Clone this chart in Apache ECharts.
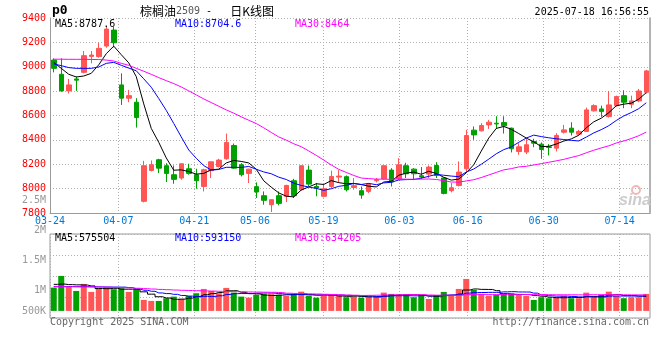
<!DOCTYPE html>
<html><head><meta charset="utf-8">
<script src="https://cdn.jsdelivr.net/npm/echarts@6/dist/echarts.min.js"></script>
<style>html,body{margin:0;padding:0;background:#fff}#c{width:660px;height:360px}</style>
</head><body><div id="c"></div>
<script>
// ---- data ----
const dates = ['03-24','03-25','03-26','03-27','03-28','03-31',
'04-01','04-02','04-03','04-07','04-08','04-09','04-10','04-11','04-14','04-15','04-16','04-17','04-18','04-21','04-22','04-23','04-24','04-25','04-28','04-29','04-30',
'05-06','05-07','05-08','05-09','05-12','05-13','05-14','05-15','05-16','05-19','05-20','05-21','05-22','05-23','05-26','05-27','05-28','05-29','05-30',
'06-03','06-04','06-05','06-06','06-09','06-10','06-11','06-12','06-13','06-16','06-17','06-18','06-19','06-20','06-23','06-24','06-25','06-26','06-27','06-30',
'07-01','07-02','07-03','07-04','07-07','07-08','07-09','07-10','07-11','07-14','07-15','07-16','07-17','07-18'];
const labelDates = ['03-24','04-07','04-21','05-06','05-19','06-03','06-16','06-30','07-14'];

const opens = [9055,8938,8802,8900,8954,9085,9083,9170,9301,8851,8742,8709,7896,8149,8237,8188,8114,8087,8163,8114,
8018,8147,8182,8245,8354,8196,8125,8016,7942,7868,7942,7937,8065,7991,8152,8018,7937,8018,8095,8098,
8010,7983,7977,8065,8081,8152,8081,8188,8160,8106,8119,8190,8087,7983,8026,8163,8480,8474,8523,8537,
8542,8496,8305,8300,8387,8365,8343,8332,8463,8496,8447,8469,8638,8654,8591,8681,8763,8692,8720,8791];
const closes = [8987,8802,8851,8890,9091,9096,9151,9309,9197,8742,8763,8583,8188,8196,8168,8125,8076,8204,8125,8065,
8155,8220,8234,8379,8168,8114,8160,7972,7904,7909,7879,8026,7942,8188,8037,8005,7999,8100,8103,7991,
8024,7947,8037,8073,8188,8054,8196,8122,8122,8095,8177,8108,7961,8007,8136,8436,8441,8518,8545,8531,
8515,8327,8343,8360,8373,8321,8338,8436,8482,8463,8469,8646,8681,8632,8687,8755,8709,8720,8801,8966];
const lows = [8954,8795,8780,8802,8946,9028,9074,9156,9159,8687,8709,8501,7887,8141,8127,8054,8040,8073,8114,7999,
7977,8087,8174,8237,8163,8100,8046,7923,7868,7808,7863,7890,7923,7983,8016,7937,7928,8005,8046,7977,
7991,7917,7963,8051,8073,8018,8070,8087,8070,8078,8087,8087,7953,7969,8018,8136,8401,8469,8490,8490,
8452,8297,8278,8283,8340,8245,8272,8305,8452,8436,8436,8469,8632,8589,8583,8673,8660,8660,8709,8780];
const highs = [9069,9069,8900,8920,9129,9129,9197,9334,9328,8946,8810,8742,8228,8231,8245,8209,8190,8204,8204,8163,
8163,8220,8245,8452,8370,8209,8163,8051,7977,7909,7977,8032,8081,8188,8190,8046,8037,8147,8152,8108,
8087,8018,8046,8087,8188,8168,8250,8212,8168,8177,8190,8217,8092,8046,8223,8482,8510,8537,8564,8594,
8594,8501,8373,8409,8409,8379,8365,8455,8523,8545,8482,8665,8692,8681,8801,8763,8807,8763,8818,8974];

const ma5 = [9036,8987,8938,8916,8924,8946,9016,9107,9169,9099,9032,8919,8695,8494,8380,8252,8151,8154,8140,8119,
8125,8154,8160,8211,8231,8223,8211,8159,8064,8012,7965,7938,7932,7989,8014,8040,8034,8066,8049,8040,
8043,8033,8020,8014,8054,8060,8110,8127,8136,8118,8142,8125,8093,8070,8078,8130,8196,8308,8415,8494,
8510,8487,8452,8415,8384,8345,8347,8366,8390,8408,8438,8499,8548,8578,8623,8680,8693,8701,8734,8787.6];
const ma10 = [9023,9009,8993,8987,8987,8987,8998,9028,9036,9012,8989,8967,8901,8832,8739,8642,8535,8424,8317,8249,
8189,8152,8157,8175,8175,8174,8182,8159,8137,8122,8094,8075,8045,8026,8013,8002,7986,7999,8019,8027,
8042,8034,8043,8032,8047,8052,8071,8074,8075,8086,8101,8117,8110,8103,8098,8136,8161,8200,8242,8286,
8320,8342,8380,8415,8439,8427,8417,8409,8403,8396,8391,8423,8457,8484,8516,8559,8596,8624,8656,8704.6];
const ma30 = [9062,9062,9061,9061,9061,9060,9059,9055,9047,9028,9012,8987,8963,8938,8911,8886,8862,8834,8802,8769,
8736,8706,8676,8646,8619,8589,8561,8534,8499,8461,8424,8398,8368,8344,8309,8273,8234,8194,8158,8133,
8108,8087,8082,8078,8078,8076,8080,8077,8077,8078,8079,8075,8066,8054,8053,8063,8073,8091,8112,8133,
8154,8164,8178,8183,8194,8205,8216,8228,8240,8256,8271,8294,8315,8334,8351,8374,8391,8411,8434,8464];

// volume in thousands
const volumes = [920,1383,948,790,1067,751,869,920,857,897,751,830,435,395,395,502,565,474,593,699,
869,790,699,909,723,565,525,632,672,660,632,593,672,762,593,525,593,632,593,541,
565,525,565,565,723,672,632,632,541,632,474,620,751,620,869,1264,830,672,604,632,
672,699,632,593,435,541,502,541,593,502,502,723,541,632,762,593,502,541,541,672];
const volMa5 = [1050,1060,1040,1030,1022,988,885,879,893,859,859,851,754,662,561,511,458,466,506,567,
640,685,730,793,798,737,684,671,623,611,624,638,646,664,650,629,629,621,587,577,
585,571,558,552,589,610,631,645,640,622,582,580,604,619,667,825,867,851,848,800,
682,656,648,646,606,580,541,522,522,536,528,572,572,580,632,650,606,606,588,575.5];
const volMa10 = [960,965,965,960,960,955,950,945,942,940,923,868,817,777,710,685,655,610,584,564,
576,572,598,650,682,689,685,700,708,704,681,661,658,644,631,627,633,633,626,614,
607,600,589,570,583,597,601,601,596,605,596,606,624,630,644,704,723,727,734,734,
753,761,749,747,703,631,598,585,584,571,554,556,547,551,584,589,589,589,584,593.2];
const volMa30 = [958,957,955,952,950,948,945,938,930,920,910,895,880,865,850,838,825,815,805,798,
790,782,775,768,760,754,748,744,740,736,727,700,691,690,674,667,658,648,639,627,
621,611,615,621,632,638,640,645,643,641,628,622,624,614,619,643,653,654,652,651,
652,656,654,649,643,644,641,638,638,637,635,641,640,643,644,641,637,634,634,634.2];

const priceMin = 7800, priceMax = 9400, priceStep = 200;
const volTickLabels = ['500K','','1M','','','1.5M','','','2M','','','2.5M'];
const priceLegend = ['MA5:8787.6','MA10:8704.6','MA30:8464'];
const volLegend = ['MA5:575504','MA10:593150','MA30:634205'];
const titleParts = ['棕榈油','2509',' -   ','日K线图'];
const symbolText = 'p0';
const stampText = '2025-07-18 16:56:55';

// ---- styles ----
const MONO = 'DejaVu Sans Mono';
const CJK = 'Noto Sans CJK SC';
const RED = '#ff5555', GREEN = '#00a000';
const GRID_C = '#b0b0b0', AXIS_C = '#9a9a9a';
const dotted = {color: GRID_C, type: [1, 2], width: 1};
const isLabel = (i, v) => labelDates.indexOf(v) >= 0;
const maColors = ['#000000', '#0000ff', '#ff00ff'];

const candleData = dates.map((d, i) => [opens[i], closes[i], lows[i], highs[i]]);
const volData = dates.map((d, i) => ({
  value: volumes[i],
  itemStyle: {color: closes[i] >= opens[i] ? RED : GREEN}
}));

const chart = echarts.init(document.getElementById('c'));
const lineSeries = (data, color, xi, yi, step) => ({
  type: 'line', data, xAxisIndex: xi, yAxisIndex: yi, showSymbol: false, symbol: 'none',
  step: step || false, z: 5, silent: true,
  lineStyle: {color, width: 1}
});
const txt = (text, x, y, color, extra) => ({
  type: 'text', x, y, z: 100,
  style: Object.assign({text, fill: color, font: '10px "' + MONO + '"', verticalAlign: 'middle', align: 'left'}, extra || {})
});

chart.setOption({
  animation: false,
  textStyle: {fontFamily: MONO},
  grid: [
    {left: 50, top: 18, width: 600, height: 195},
    {left: 50, top: 234, width: 600, height: 84, show: true, borderColor: AXIS_C, borderWidth: 1},
    {left: 50, top: 200, width: 600, height: 111}
  ],
  xAxis: [
    {type: 'category', gridIndex: 0, position: 'bottom', data: dates, boundaryGap: true, show: false},
    {type: 'category', gridIndex: 0, position: 'bottom', data: dates, boundaryGap: false,
      axisLine: {show: true, onZero: false, lineStyle: {color: AXIS_C}}, axisTick: {show: false},
      axisLabel: {interval: isLabel, color: '#0078d7', fontFamily: MONO, fontSize: 10, margin: 3},
      splitLine: {show: true, interval: isLabel, lineStyle: dotted}},
    {type: 'category', gridIndex: 1, position: 'bottom', data: dates, boundaryGap: true, show: false},
    {type: 'category', gridIndex: 1, position: 'bottom', data: dates, boundaryGap: false,
      axisLine: {show: false}, axisTick: {show: false}, axisLabel: {show: false},
      splitLine: {show: true, interval: isLabel, lineStyle: dotted}},
    {type: 'category', gridIndex: 2, data: dates, show: false}
  ],
  yAxis: [
    {type: 'value', gridIndex: 0, position: 'left', min: priceMin, max: priceMax, interval: priceStep,
      axisLine: {show: true, lineStyle: {color: AXIS_C}}, axisTick: {show: false},
      axisLabel: {color: '#ff0000', fontFamily: MONO, fontSize: 10, margin: 4, formatter: v => String(v)},
      splitLine: {show: true, lineStyle: dotted}},
    {type: 'value', gridIndex: 0, position: 'right', min: priceMin, max: priceMax,
      axisLine: {show: true, lineStyle: {color: AXIS_C, width: 1.5}}, axisTick: {show: false},
      axisLabel: {show: false}, splitLine: {show: false}},
    {type: 'value', gridIndex: 1, position: 'left', min: -280, max: 3040, show: false},
    {type: 'value', gridIndex: 1, position: 'left', min: 0, max: 4, interval: 1,
      axisLine: {show: false}, axisTick: {show: false}, axisLabel: {show: false},
      splitLine: {show: true, lineStyle: dotted}},
    {type: 'category', gridIndex: 2, data: volTickLabels, boundaryGap: false,
      axisLine: {show: false}, axisTick: {show: false}, splitLine: {show: false},
      axisLabel: {interval: 0, color: '#999999', fontFamily: MONO, fontSize: 10, margin: 4}}
  ],
  series: [
    {type: 'candlestick', xAxisIndex: 0, yAxisIndex: 0, data: candleData, barWidth: 5, silent: true,
      itemStyle: {color: RED, color0: GREEN, borderColor: RED, borderColor0: GREEN, borderWidth: 1}},
    lineSeries(ma5, maColors[0], 0, 0),
    lineSeries(ma10, maColors[1], 0, 0),
    lineSeries(ma30, maColors[2], 0, 0),
    {type: 'bar', xAxisIndex: 2, yAxisIndex: 2, data: volData, barWidth: 6, silent: true},
    lineSeries(volMa5, maColors[0], 2, 2, 'middle'),
    lineSeries(volMa10, maColors[1], 2, 2, 'middle'),
    lineSeries(volMa30, maColors[2], 2, 2, 'middle')
  ],
  graphic: [
    txt(symbolText, 52, 11, '#000', {font: 'bold 13px "' + MONO + '"'}),
    {type: 'text', x: 140, y: 11, z: 100, style: {
      text: '{a|' + titleParts[0] + '}{b|' + titleParts[1] + '}{c|' + titleParts[2] + '}{a|' + titleParts[3] + '}',
      verticalAlign: 'middle', align: 'left',
      rich: {
        a: {fontSize: 12, fontFamily: CJK, fill: '#000'},
        b: {fontSize: 10, fontFamily: MONO, fill: '#555'},
        c: {fontSize: 10, fontFamily: MONO, fill: '#000'}
      }}},
    txt(stampText, 649, 12, '#000', {align: 'right'}),
    txt(priceLegend[0], 55, 24, maColors[0]),
    txt(priceLegend[1], 175, 24, maColors[1]),
    txt(priceLegend[2], 295, 24, maColors[2]),
    txt(volLegend[0], 55, 238.5, maColors[0]),
    txt(volLegend[1], 175, 238.5, maColors[1]),
    txt(volLegend[2], 295, 238.5, maColors[2]),
    txt('Copyright 2025 SINA.COM', 50, 322.5, '#666'),
    txt('http://finance.sina.com.cn', 649, 322.5, '#666', {align: 'right'}),
    {type: 'circle', z: 90, shape: {cx: 636, cy: 190, r: 4}, style: {fill: 'none', stroke: '#f2b8b8', lineWidth: 2}},
    txt('sina', 619, 201, '#cccccc', {font: 'italic bold 16px "Liberation Sans"'})
  ]
});
</script>
</body></html>
